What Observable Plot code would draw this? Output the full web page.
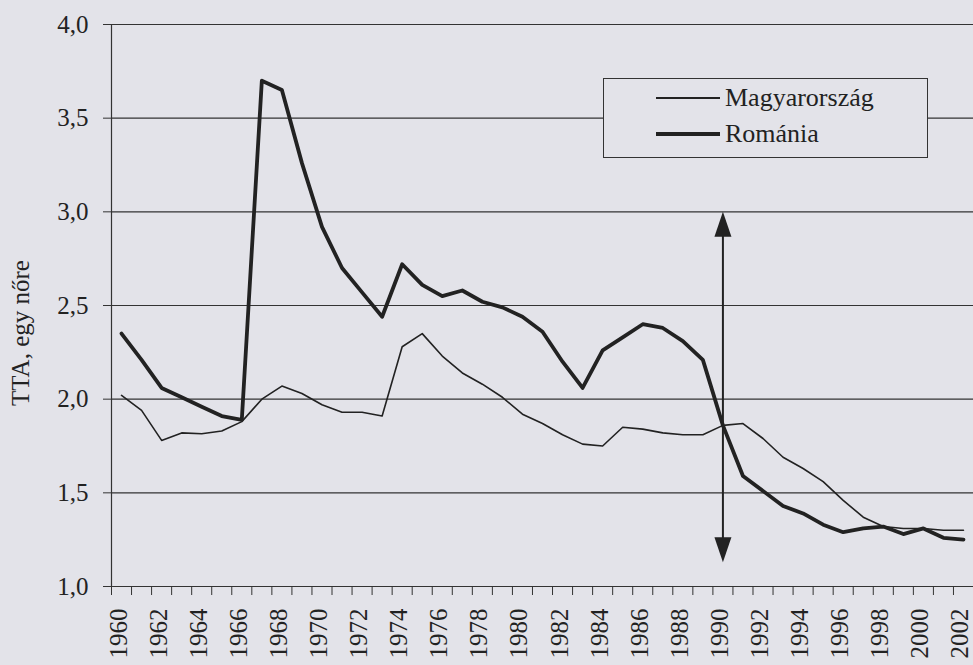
<!DOCTYPE html>
<html>
<head>
<meta charset="utf-8">
<script src="https://cdn.jsdelivr.net/npm/d3@7"></script>
<script src="https://cdn.jsdelivr.net/npm/@observablehq/plot@0.6"></script>
<style>
  html, body { margin: 0; padding: 0; background: #e3e3e9; }
  #wrap { position: relative; width: 973px; height: 665px; overflow: hidden; font-family: "Liberation Serif", "Times New Roman", serif; color: #222; }
  #legend { position: absolute; left: 603px; top: 78px; width: 325px; height: 80px; border: 1px solid #333; background: #e3e3e9; box-sizing: border-box; }
  .row { position: absolute; left: 52px; height: 30px; display: flex; align-items: center; font-size: 26px; }
  .sw { width: 64px; background: #222; margin-right: 5px; }
  #ytitle { position: absolute; left: 20px; top: 333px; transform: translate(-50%, -50%) rotate(-90deg); white-space: nowrap; font-size: 25px; line-height: 1; }
</style>
</head>
<body>
<div id="wrap"></div>
<script>
// ---- data ----
const years = d3.range(1960, 2003);
const hungary = [2.02, 1.94, 1.78, 1.82, 1.815, 1.83, 1.88, 2.00, 2.07, 2.03,
                 1.97, 1.93, 1.93, 1.91, 2.28, 2.35, 2.23, 2.14, 2.08, 2.01,
                 1.92, 1.87, 1.81, 1.76, 1.75, 1.85, 1.84, 1.82, 1.81, 1.81,
                 1.86, 1.87, 1.79, 1.69, 1.63, 1.56, 1.46, 1.37, 1.32, 1.31,
                 1.31, 1.30, 1.30];
const romania = [2.35, 2.21, 2.06, 2.01, 1.96, 1.91, 1.89, 3.70, 3.65, 3.26,
                 2.92, 2.70, 2.57, 2.44, 2.72, 2.61, 2.55, 2.58, 2.52, 2.49,
                 2.44, 2.36, 2.20, 2.06, 2.26, 2.33, 2.40, 2.38, 2.31, 2.21,
                 1.86, 1.59, 1.51, 1.43, 1.39, 1.33, 1.29, 1.31, 1.32, 1.28,
                 1.31, 1.26, 1.25];
const seriesNames = ["Magyarország", "Románia"];
const yTicks = [1.0, 1.5, 2.0, 2.5, 3.0, 3.5, 4.0];
const xLabelYears = years.filter(y => y % 2 === 0);
const yTitle = "TTA, egy nőre";
const arrowYear = 1990, arrowTop = 3.0, arrowBottom = 1.13;

const rows = years.map((yr, i) => ({year: yr, hu: hungary[i], ro: romania[i]}));
const boundaries = d3.range(1959.5, 2003, 1);

const ink = "#222";
const head = {
  draw(ctx, l, r) {
    ctx.moveTo(0, 0);
    ctx.lineTo(-8.5, 25);
    ctx.lineTo(8.5, 25);
    ctx.closePath();
  }
};

const chart = Plot.plot({
  width: 973,
  height: 665,
  marginLeft: 111,
  marginRight: 0,
  marginTop: 24,
  marginBottom: 79,
  style: {background: "transparent", fontFamily: "'Liberation Serif', 'Times New Roman', serif", color: ink, overflow: "visible"},
  x: {type: "linear", domain: [1959.5, 2002.5]},
  y: {domain: [1, 4]},
  marks: [
    Plot.gridY(yTicks, {stroke: "#333", strokeOpacity: 1, strokeWidth: 1.1}),
    Plot.ruleX([1959.5], {stroke: "#333", strokeWidth: 1.2}),
    Plot.axisY({ticks: yTicks, tickFormat: d => d.toFixed(1).replace(".", ","), tickSize: 8, tickPadding: 15, fontSize: 25, label: null, stroke: "#333"}),
    Plot.axisX({ticks: boundaries, tickSize: 9, fill: "none", stroke: "#333", label: null}),
    Plot.axisX({ticks: xLabelYears, tickFormat: d => String(d), tickRotate: -90, tickSize: 0, tickPadding: 22, fontSize: 25, dx: -3, label: null}),
    Plot.lineY(rows, {x: "year", y: "hu", stroke: ink, strokeWidth: 1.6}),
    Plot.lineY(rows, {x: "year", y: "ro", stroke: ink, strokeWidth: 3.8}),
    Plot.ruleX([arrowYear], {y1: arrowBottom + 0.05, y2: arrowTop - 0.05, stroke: ink, strokeWidth: 2}),
    Plot.vector([{y: arrowTop, r: 0}, {y: arrowBottom, r: 180}], {
      x: () => arrowYear, y: "y", rotate: "r", length: 25, anchor: "start",
      shape: head, fill: ink, stroke: "none"
    })
  ]
});

const wrap = document.getElementById("wrap");
wrap.appendChild(chart);

// y-axis title
const yt = document.createElement("div");
yt.id = "ytitle";
yt.textContent = yTitle;
wrap.appendChild(yt);

// legend
const legend = document.createElement("div");
legend.id = "legend";
const widths = [1.6, 4];
seriesNames.forEach((name, i) => {
  const row = document.createElement("div");
  row.className = "row";
  row.style.top = (i === 0 ? 4 : 40) + "px";
  const sw = document.createElement("div");
  sw.className = "sw";
  sw.style.height = widths[i] + "px";
  const t = document.createElement("span");
  t.textContent = name;
  row.appendChild(sw);
  row.appendChild(t);
  legend.appendChild(row);
});
wrap.appendChild(legend);
</script>
</body>
</html>
